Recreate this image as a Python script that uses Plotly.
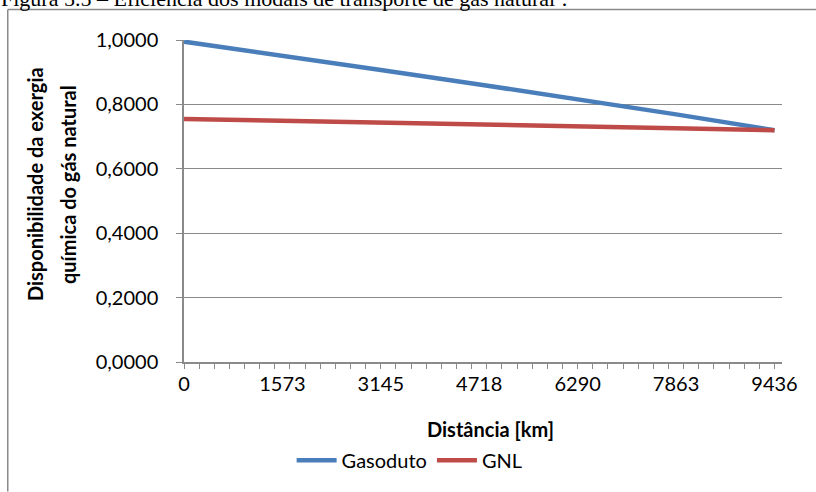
import plotly.graph_objects as go

# ---- data ----
distance_km = [0, 1573, 3145, 4718, 6290, 7863, 9436]
gasoduto = [0.995, 0.952, 0.907, 0.862, 0.816, 0.769, 0.720]
gnl = [0.755, 0.749, 0.743, 0.737, 0.731, 0.726, 0.720]
x_ticks = [0, 1573, 3145, 4718, 6290, 7863, 9436]
x_tick_labels = ["0", "1573", "3145", "4718", "6290", "7863", "9436"]
y_ticks = [0.0, 0.2, 0.4, 0.6, 0.8, 1.0]

# ---- layout geometry (pixels) ----
W, H = 816, 492
PL, PR, PT, PB = 184.3, 782.5, 40, 368
def px(x):
    return (x - PL) / (PR - PL)
def py(y):
    return (PB - y) / (PB - PT)

GRID = "#8A8A8A"
FONT = "Lato"
x_max = 9436 * (PR - PL) / (775.0 - PL)
minor_vals = [k * 9436 / 39 for k in range(40)]

fig = go.Figure()
fig.add_trace(go.Scatter(x=distance_km, y=gasoduto, mode="lines", name="Gasoduto",
                         line=dict(color="#4A7EBB", width=4.5)))
fig.add_trace(go.Scatter(x=distance_km, y=gnl, mode="lines", name="GNL",
                         line=dict(color="#BE4B48", width=4.5)))

fig.update_layout(
    width=W, height=H,
    margin=dict(l=PL, r=W - PR, t=PT, b=H - PB, pad=0),
    paper_bgcolor="white", plot_bgcolor="white",
    separators=",.",
    font=dict(family=FONT, size=20, color="black"),
    showlegend=True,
    legend=dict(orientation="h", x=px(410), y=py(468), xanchor="center", yanchor="middle",
                font=dict(family=FONT, size=20), itemwidth=40, tracegroupgap=0,
                bgcolor="rgba(0,0,0,0)"),
    xaxis=dict(range=[0, x_max], tickmode="array", tickvals=x_ticks, ticktext=x_tick_labels,
               ticks="", showgrid=False, zeroline=False, showline=True, linecolor=GRID,
               linewidth=1.5, ticklabelstandoff=3,
               minor=dict(tickmode="array", tickvals=minor_vals, ticks="outside", ticklen=5,
                          tickcolor=GRID, tickwidth=1.2, showgrid=False),
               fixedrange=True),
    yaxis=dict(range=[0, 1], tickmode="array", tickvals=y_ticks, tickformat=".4f",
               ticks="outside", ticklen=6, tickcolor=GRID, tickwidth=1.2,
               showgrid=True, gridcolor=GRID, gridwidth=1.1, zeroline=False,
               showline=True, linecolor=GRID, linewidth=1.5, ticklabelstandoff=14,
               fixedrange=True),
)

# titles
fig.add_annotation(text="<b>Distância [km]</b>", x=px(491), y=py(436), xref="paper", yref="paper",
                   xanchor="center", yanchor="middle", showarrow=False,
                   font=dict(family=FONT, size=20))
fig.add_annotation(text="<b>Disponibilidade da exergia</b>", x=px(36), y=py(187), xref="paper",
                   yref="paper", xanchor="center", yanchor="middle", showarrow=False,
                   textangle=-90, font=dict(family=FONT, size=20))
fig.add_annotation(text="<b>química do gás natural</b>", x=px(69), y=py(187), xref="paper",
                   yref="paper", xanchor="center", yanchor="middle", showarrow=False,
                   textangle=-90, font=dict(family=FONT, size=20))

# figure caption (cut off at the top, as in the reference)
fig.add_annotation(text="Figura 5.5 – Eficiência dos modais de transporte de gás natural¹.",
                   x=px(-1), y=py(13), xref="paper", yref="paper", xanchor="left",
                   yanchor="bottom", showarrow=False,
                   font=dict(family="Liberation Serif", size=22, color="black"))

# chart border
fig.add_shape(type="line", xref="paper", yref="paper", x0=px(8), x1=px(830), y0=py(9), y1=py(9),
              line=dict(color=GRID, width=1.5))
fig.add_shape(type="line", xref="paper", yref="paper", x0=px(8), x1=px(8), y0=py(9), y1=py(500),
              line=dict(color=GRID, width=1.5))

fig.write_html("out.html")
